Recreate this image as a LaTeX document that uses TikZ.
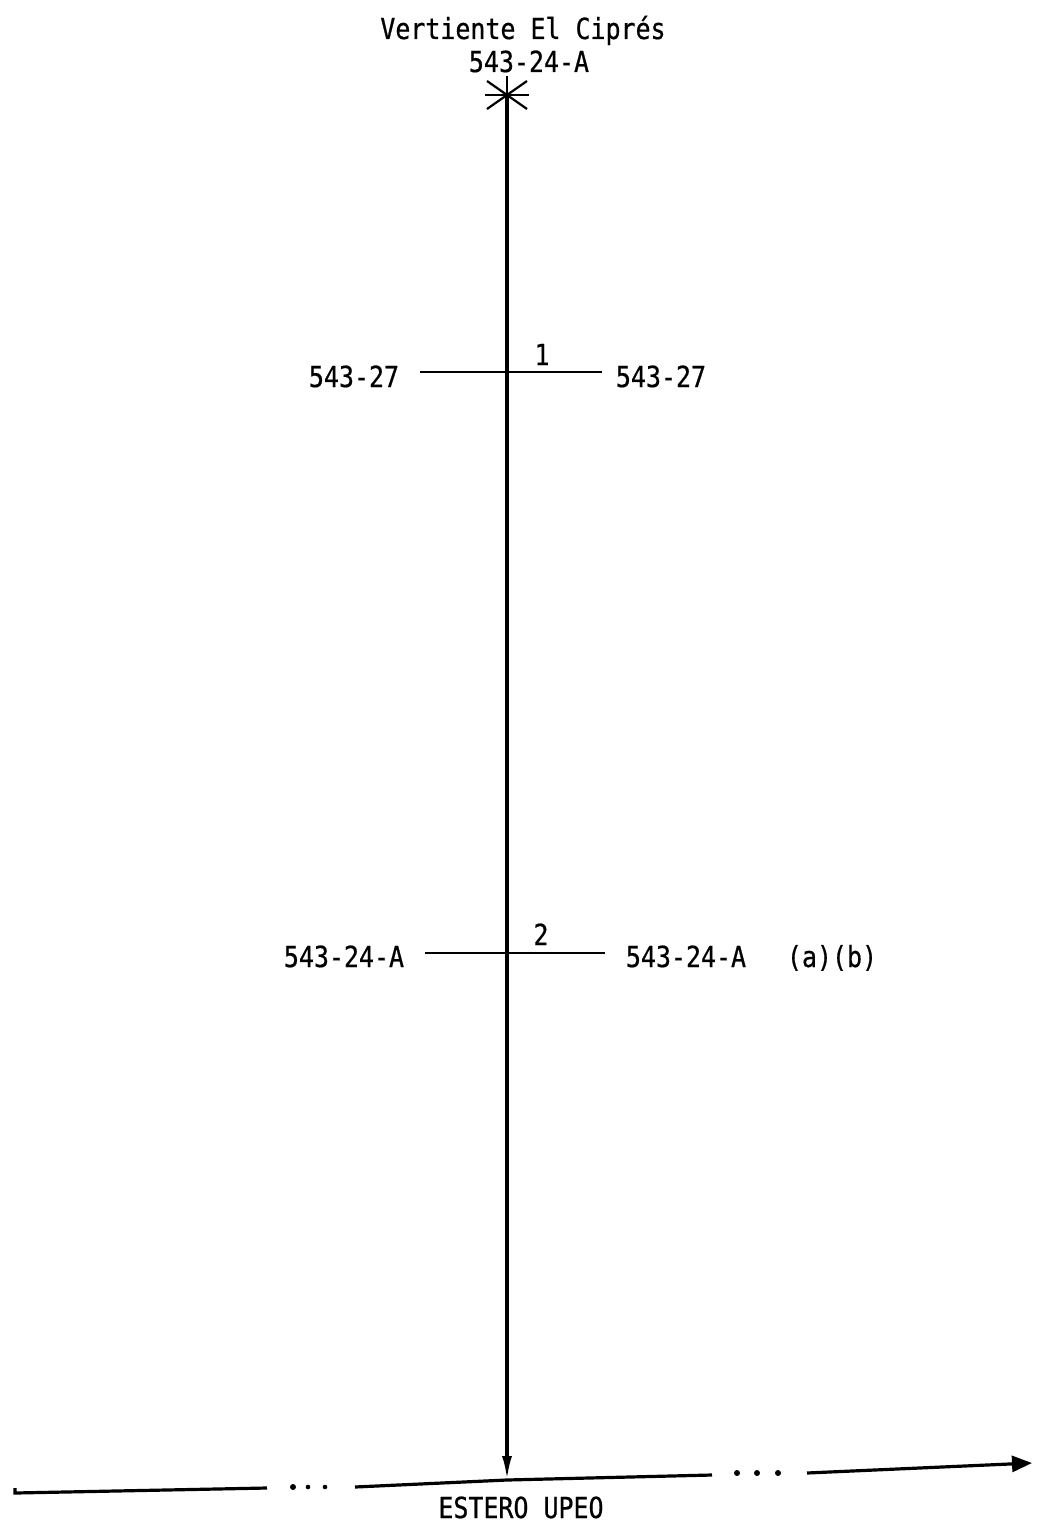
\documentclass[tikz,border=0pt]{standalone}
\usepackage{fontspec}
\newfontfamily\tw[FakeStretch=0.86,FakeBold=0.6]{DejaVu Sans Mono}
\usetikzlibrary{arrows.meta}
\begin{document}
\begin{tikzpicture}[x=1pt,y=-1pt,
  lbl/.style={font=\tw\fontsize{29}{34}\selectfont, inner sep=0pt, anchor=base},
  riv/.style={line width=3.2pt},
  crs/.style={line width=2.2pt},
  dotm/.style={fill=black, draw=none}]
\useasboundingbox (0,0) rectangle (1038,1538);
% labels
\node[lbl] (title) at (523,39) {Vertiente El Ciprés};
\node[lbl] (src) at (529,72) {543-24-A};
% source star
\coordinate (star) at (507,95);
\draw[crs] (485,95) -- (529,95);
\draw[crs] (487,81) -- (527,109);
\draw[crs] (487,109) -- (527,81);
\draw[crs] (507,76) -- (star);
% junction points
\coordinate (j1) at (507,372);
\coordinate (j2) at (507,953);
\coordinate (mouth) at (507,1480);
% crossings
\coordinate (c1l) at (420,372);
\coordinate (c1r) at (602,372);
\coordinate (c2l) at (425,953);
\coordinate (c2r) at (605,953);
\draw[crs] (c1l) -- (j1) -- (c1r);
\draw[crs] (c2l) -- (j2) -- (c2r);
\node[lbl] (n1) at (542,365) {1};
\node[lbl] (n2) at (541,945) {2};
\node[lbl] (l1) at (354,387) {543-27};
\node[lbl] (r1) at (661,387) {543-27};
\node[lbl] (l2) at (344,967) {543-24-A};
\node[lbl] (r2) at (686,967) {543-24-A};
\node[lbl] (ab) at (832,967) {(a)(b)};
% main stream
\draw[riv,-{Latex[length=24pt,width=10pt]}] (star) -- (mouth);
% receiving stream
\coordinate (b0) at (15,1493);
\coordinate (b1) at (267,1488);
\coordinate (b2) at (355,1487);
\coordinate (b3) at (712,1475);
\coordinate (b4) at (807,1473);
\coordinate (tip) at (1032,1463);
\draw[riv] (15,1488) -- (b0) -- (b1);
\draw[riv] (b2) -- (mouth) -- (b3);
\draw[riv,-{Triangle[length=20pt,width=16pt]}] (b4) -- (tip);
\fill[dotm] (293,1487) circle (3);
\fill[dotm] (308,1487) circle (2.3);
\fill[dotm] (325,1487) circle (2.3);
\fill[dotm] (737,1473) circle (3);
\fill[dotm] (757,1473) circle (3);
\fill[dotm] (778,1473) circle (3);
\node[lbl] (estero) at (521,1518) {ESTERO UPEO};
\end{tikzpicture}
\end{document}
